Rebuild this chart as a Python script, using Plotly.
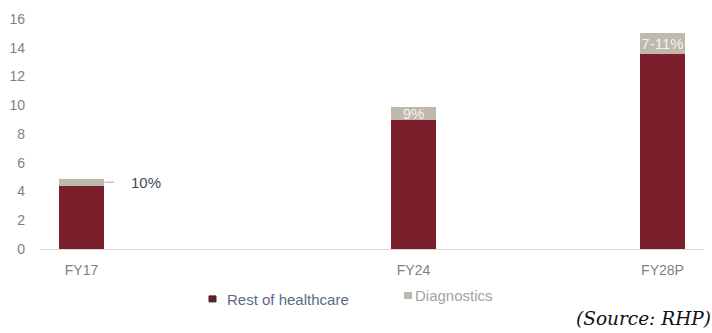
import plotly.graph_objects as go

# ---- data ----
categories = ["FY17", "FY24", "FY28P"]
rest_of_healthcare = [4.4, 9.0, 13.6]
diagnostics = [0.5, 0.9, 1.4]
share_labels = ["10%", "9%", "7-11%"]
series_names = ["Rest of healthcare", "Diagnostics"]
# slot layout of the category axis (blank slots create the uneven spacing)
axis_slots = ["FY17", " ", "  ", "   ", "FY24", "    ", "     ", "FY28P"]
y_ticks = [0, 2, 4, 6, 8, 10, 12, 14, 16]

REST_COLOR = "#7A1F2B"
DIAG_COLOR = "#BFB8AC"
FONT = "Liberation Sans, Arial, sans-serif"

fig = go.Figure()
fig.add_trace(go.Bar(
    x=categories, y=rest_of_healthcare, name=series_names[0],
    marker_color=REST_COLOR, marker_line_width=0, showlegend=False,
))
fig.add_trace(go.Bar(
    x=categories, y=diagnostics, name=series_names[1],
    marker_color=DIAG_COLOR, marker_line_width=0, showlegend=False,
    text=[""] + share_labels[1:], textposition="inside",
    insidetextanchor="middle", textangle=0,
    insidetextfont=dict(color="#F4F2EE", size=15, family=FONT),
    constraintext="none", cliponaxis=False,
))

# FY17 label with leader line
fig.add_annotation(
    x=categories[0], y=rest_of_healthcare[0] + diagnostics[0] / 2,
    xshift=23, text=share_labels[0], showarrow=True, arrowhead=0,
    arrowwidth=1, arrowcolor="#A6A6A6", ax=41, ay=0, startstandoff=15,
    font=dict(size=15, color="#3B4A5A", family=FONT),
)

# legend drawn as text + small squares
fig.add_shape(type="rect", xref="paper", yref="paper",
              x0=(209 - 40) / 664, x1=(216 - 40) / 664,
              y0=(249 - 296) / 230.4, y1=(249 - 302) / 230.4,
              fillcolor="#6A1E22", line=dict(color="#3A2A2A", width=1))
fig.add_annotation(xref="paper", yref="paper", x=(225 - 40) / 664,
                   y=(249 - 300) / 230.4, xanchor="left", yanchor="middle",
                   text=series_names[0], showarrow=False,
                   font=dict(size=15, color="#5A6A85", family=FONT))
fig.add_shape(type="rect", xref="paper", yref="paper",
              x0=(404 - 40) / 664, x1=(412 - 40) / 664,
              y0=(249 - 292) / 230.4, y1=(249 - 299) / 230.4,
              fillcolor="#BDB6AE", line=dict(width=0))
fig.add_annotation(xref="paper", yref="paper", x=(413 - 40) / 664,
                   y=(249 - 296) / 230.4, xanchor="left", yanchor="middle",
                   text=series_names[1], showarrow=False,
                   font=dict(size=15, color="#A3A3A3", family=FONT))

fig.add_annotation(
    xref="paper", yref="paper", x=(713 - 40) / 664, y=(249 - 319) / 230.4,
    xanchor="right", yanchor="middle",
    text="<i>(Source: RHP)</i>", showarrow=False,
    font=dict(size=18.5, color="#111111", family="DejaVu Serif, serif"),
)

fig.update_layout(
    width=712, height=333,
    barmode="stack", bargap=0.45,
    plot_bgcolor="white", paper_bgcolor="white",
    margin=dict(l=40, r=8, t=18.6, b=84),
    font=dict(family=FONT, size=14, color="#7F7F7F"),
    uniformtext=dict(minsize=15, mode="show"),
    showlegend=False,
    xaxis=dict(
        type="category", categoryorder="array", categoryarray=axis_slots,
        range=[-0.5, len(axis_slots) - 0.5],
        showline=True, linecolor="#D9D9D9", linewidth=1,
        showgrid=False, ticks="", ticklabelstandoff=8,
        tickfont=dict(size=14, color="#7F7F7F"), zeroline=False,
    ),
    yaxis=dict(
        range=[0, 16], tickvals=y_ticks, showgrid=False, showline=False,
        zeroline=False, ticks="", ticklabelstandoff=14,
        tickfont=dict(size=14, color="#7F7F7F"),
    ),
)

fig.write_html("out.html")
